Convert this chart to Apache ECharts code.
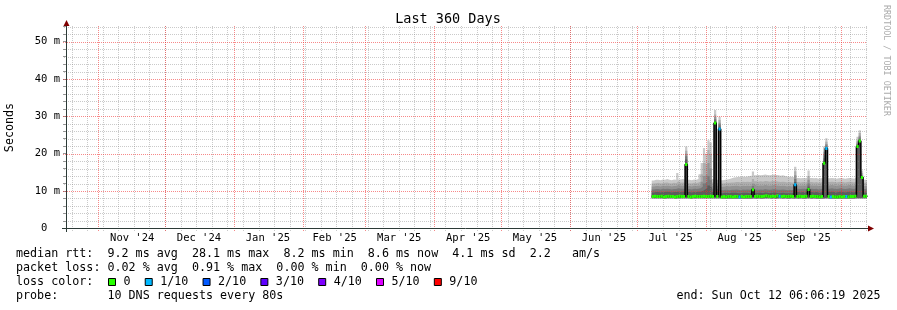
<!DOCTYPE html>
<html><head><meta charset="utf-8">
<script src="https://cdn.jsdelivr.net/npm/echarts@6/dist/echarts.min.js"></script>
<style>html,body{margin:0;padding:0;background:#fff}#c{width:897px;height:310px}</style>
</head><body><div id="c"></div>
<script>
// ---------- data ----------
const rangeStart = '2024-10-17 06:06:19';
const rangeEnd = '2025-10-12 06:06:19';
const firstSample = '2025-07-07 12:00:00'; // one sample per day from here
const monthStarts = ['2024-11-01','2024-12-01','2025-01-01','2025-02-01','2025-03-01','2025-04-01','2025-05-01','2025-06-01','2025-07-01','2025-08-01','2025-09-01','2025-10-01'];
const monthLabelDates = ['2024-11-16','2024-12-16','2025-01-16','2025-02-15','2025-03-16','2025-04-16','2025-05-16','2025-06-16','2025-07-16','2025-08-16','2025-09-16'];
const monthLabels = ["Nov '24","Dec '24","Jan '25","Feb '25","Mar '25","Apr '25","May '25","Jun '25","Jul '25","Aug '25","Sep '25"];
const firstWeekLine = '2024-10-20';
const yTickValues = [0,10,20,30,40,50];
const yTickLabels = ['0  ','10 m','20 m','30 m','40 m','50 m'];

const medianMs = [
 8.5,8.6,8.5,8.5,8.6,8.4,8.5,8.6,8.5,8.5,8.4,8.5,8.6,8.5,8.5,
 17.1,
 8.5,8.4,8.5,8.6,8.5,
 8.5,8.5,8.6,8.5,8.5,8.6,
 8.5,28.2,8.5,26.6,
 8.4,8.5,8.4,8.5,8.5,
 8.4,8.5,8.5,8.4,8.5,8.4,8.5,8.5,8.5,
 10.3,
 8.5,8.6,8.5,8.5,8.6,8.7,8.6,8.5,8.6,8.5,8.7,8.6,8.5,8.6,8.5,8.5,8.6,
 8.5,11.7,
 8.5,8.6,8.5,8.5,8.6,
 10.4,
 8.5,8.6,8.5,8.5,8.4,8.5,
 17.4,21.4,
 8.5,8.4,8.5,8.4,8.4,8.5,8.4,8.5,8.5,8.4,8.5,8.5,8.6,
 21.9,23.4,13.6,
 8.6,8.6];
const lossCount = [
 0,0,0,0,0,0,0,0,0,0,0,0,0,0,0,
 0,
 0,0,0,0,0,
 0,0,0,0,0,0,
 0,0,0,1,
 0,0,0,0,0,
 0,0,0,1,0,0,0,0,0,
 0,
 0,0,0,0,0,0,0,0,0,0,0,1,0,0,0,0,0,
 0,1,
 0,0,0,0,0,
 0,
 0,0,0,0,0,0,
 0,1,
 0,1,0,0,0,0,0,0,1,0,0,0,0,
 0,0,0,
 0,0];
const smokeTop1 = [
 12.8,13.0,13.0,12.9,13.1,13.0,13.2,13.0,12.9,13.1,13.0,14.8,13.1,13.2,13.1,
 21.9,
 13.0,12.9,13.1,13.0,13.2,
 14.5,17.5,21.5,20.0,23.6,23.0,
 13.2,31.7,13.0,29.9,
 12.9,13.0,13.1,13.2,13.4,
 13.6,13.7,13.8,13.8,13.9,13.8,13.9,14.0,14.1,
 15.2,
 14.2,14.3,14.2,14.3,14.4,14.3,14.2,14.3,14.4,14.3,14.2,14.1,14.2,14.0,13.9,13.8,13.8,
 13.7,16.5,
 13.5,13.4,13.5,13.4,13.6,
 15.5,
 13.5,13.4,13.5,13.3,13.4,13.5,
 21.9,24.1,
 13.4,13.5,13.4,13.3,13.4,13.5,13.4,13.3,13.4,13.5,13.4,13.3,13.6,
 24.5,26.3,15.5,
 13.0,12.9];
const smokeTop2 = [
 12.0,12.1,12.2,12.0,12.1,12.2,12.3,12.1,12.0,12.2,12.1,12.6,12.2,12.3,12.2,
 20.8,
 12.1,12.0,12.2,12.1,12.3,
 12.5,14.5,17.5,17.0,21.0,20.0,
 12.3,30.5,12.1,29.0,
 12.0,12.1,12.2,12.2,12.3,
 12.3,12.4,12.4,12.3,12.5,12.4,12.5,12.4,12.5,
 13.2,
 12.6,12.5,12.6,12.5,12.7,12.6,12.5,12.6,12.7,12.6,12.5,12.4,12.5,12.4,12.3,12.4,12.3,
 12.3,15.3,
 12.4,12.3,12.4,12.3,12.5,
 14.0,
 12.4,12.3,12.4,12.2,12.3,12.4,
 20.5,23.2,
 12.4,12.5,12.4,12.3,12.4,12.5,12.4,12.3,12.4,12.5,12.4,12.3,12.6,
 23.5,25.5,14.8,
 12.2,12.1];
const smokeTop3 = [
 11.2,11.3,11.3,11.2,11.4,11.3,11.4,11.3,11.2,11.3,11.3,11.6,11.4,11.4,11.3,
 20.0,
 11.3,11.2,11.4,11.3,11.4,
 11.5,12.5,14.0,14.5,17.5,16.0,
 11.4,29.8,11.3,28.3,
 11.1,11.2,11.3,11.2,11.3,
 11.3,11.4,11.3,11.2,11.4,11.3,11.4,11.3,11.4,
 12.0,
 11.5,11.4,11.5,11.4,11.6,11.5,11.4,11.5,11.6,11.5,11.4,11.3,11.4,11.3,11.2,11.3,11.2,
 11.3,14.2,
 11.5,11.4,11.5,11.4,11.6,
 13.0,
 11.5,11.4,11.5,11.3,11.4,11.5,
 19.6,22.6,
 11.5,11.6,11.5,11.4,11.5,11.6,11.5,11.4,11.5,11.6,11.5,11.4,11.7,
 23.0,24.8,14.3,
 11.3,11.2];
const smokeTop4 = [
 10.4,10.5,10.5,10.4,10.6,10.5,10.6,10.5,10.4,10.5,10.5,10.7,10.6,10.6,10.5,
 19.3,
 10.5,10.4,10.6,10.5,10.6,
 10.7,11.2,12.0,12.5,14.0,13.0,
 10.6,29.2,10.5,27.8,
 10.2,10.3,10.3,10.2,10.3,
 10.3,10.4,10.3,10.2,10.4,10.3,10.4,10.3,10.4,
 11.3,
 10.4,10.3,10.4,10.3,10.5,10.4,10.3,10.4,10.5,10.4,10.3,10.3,10.4,10.3,10.2,10.3,10.2,
 10.4,13.2,
 10.6,10.5,10.6,10.5,10.7,
 12.0,
 10.6,10.5,10.6,10.4,10.5,10.6,
 18.8,22.2,
 10.6,10.7,10.6,10.5,10.6,10.7,10.6,10.5,10.6,10.7,10.6,10.5,10.8,
 22.6,24.3,14.0,
 10.5,10.4];
const smokeTop5 = [
 9.6,9.7,9.7,9.6,9.7,9.7,9.8,9.7,9.6,9.7,9.7,9.8,9.7,9.8,9.7,
 18.4,
 9.7,9.6,9.7,9.7,9.8,
 9.8,10.0,10.4,10.8,11.5,11.0,
 9.7,28.8,9.7,27.2,
 9.4,9.5,9.5,9.4,9.5,
 9.5,9.5,9.4,9.4,9.5,9.5,9.5,9.4,9.5,
 10.8,
 9.5,9.5,9.5,9.4,9.6,9.5,9.4,9.5,9.6,9.5,9.4,9.4,9.5,9.4,9.4,9.4,9.4,
 9.6,12.4,
 9.7,9.6,9.7,9.6,9.8,
 11.2,
 9.7,9.6,9.7,9.6,9.6,9.7,
 18.0,21.8,
 9.7,9.8,9.7,9.6,9.7,9.8,9.7,9.6,9.7,9.8,9.7,9.6,9.9,
 22.2,23.9,13.8,
 9.6,9.6];
const smokeLow = [
 8.0,8.0,8.0,8.0,8.0,7.9,8.0,8.0,8.0,8.0,7.9,8.0,8.0,8.0,8.0,
 8.0,
 8.0,7.9,8.0,8.0,8.0,
 8.0,8.0,8.0,8.0,8.0,8.0,
 8.0,8.0,8.0,8.0,
 7.9,7.9,7.9,7.9,7.9,
 7.9,7.9,7.9,7.9,7.9,7.9,7.9,7.9,7.9,
 8.0,
 7.9,8.0,7.9,7.9,8.0,8.0,8.0,7.9,8.0,7.9,8.0,8.0,7.9,8.0,7.9,7.9,8.0,
 7.9,8.0,
 7.9,8.0,7.9,7.9,8.0,
 8.0,
 7.9,8.0,7.9,7.9,7.9,7.9,
 8.0,8.0,
 7.9,7.9,7.9,7.9,7.9,7.9,7.9,7.9,7.9,7.9,7.9,7.9,8.0,
 8.0,8.0,8.0,
 8.0,8.0];
const lossColors = ['#26ff00','#00b8ff','#0059ff','#5e00ff','#7e00ff','#dd00ff','#ff0000'];
const lossLabels = ['0','1/10','2/10','3/10','4/10','5/10','9/10'];
const legendLines = [
 'median rtt:  9.2 ms avg  28.1 ms max  8.2 ms min  8.6 ms now  4.1 ms sd  2.2   am/s',
 'packet loss: 0.02 % avg  0.91 % max  0.00 % min  0.00 % now',
 'loss color:',
 'probe:       10 DNS requests every 80s'
];
const endText = 'end: Sun Oct 12 06:06:19 2025';
const titleText = 'Last 360 Days';
const yAxisName = 'Seconds';
const sideText = 'RRDTOOL / TOBI OETIKER';

// ---------- helpers ----------
const MONO = '"DejaVu Sans Mono", monospace';
function parts(s){const m=s.match(/(\d+)-(\d+)-(\d+)(?:[ T](\d+):(\d+)(?::(\d+))?)?/);return [+m[1],+m[2]-1,+m[3],+(m[4]||0),+(m[5]||0),+(m[6]||0)];}
function parseT(s){const p=parts(s);return new Date(p[0],p[1],p[2],p[3],p[4],p[5]).getTime();}
function addDays(s,d){const p=parts(s);return new Date(p[0],p[1],p[2]+d,p[3],p[4],p[5]).getTime();}
function lossColor(n){if(n<=0)return lossColors[0];if(n<=4)return lossColors[n];if(n<=8)return lossColors[5];return lossColors[6];}

const tMin = parseT(rangeStart), tMax = parseT(rangeEnd);
const yMax = 54.2;
const times = medianMs.map((_,i)=>addDays(firstSample,i));
const tAfter = addDays(firstSample, medianMs.length);
const tBefore = addDays(firstSample, -1);
function stepData(arr, pre){const o=arr.map((v,i)=>[times[i],v]);o.push([tAfter,arr[arr.length-1]]);if(pre)o.unshift([tBefore,arr[0]]);return o;}

const weekLines=[];{const p=parts(firstWeekLine);for(let k=0;;k++){const t=new Date(p[0],p[1],p[2]+7*k).getTime();if(t>tMax)break;weekLines.push(t);}}
const monthLines = monthStarts.map(parseT);

const GRID_MINOR='rgba(128,128,128,0.42)', GRID_MAJOR='rgba(240,40,40,0.55)';

const bands=[[smokeTop1,'#c9c9c9'],[smokeTop2,'#adadad'],[smokeTop3,'#939393'],[smokeTop4,'#787878'],[smokeTop5,'#5c5c5c']];
const series=[];
bands.forEach(([arr,col])=>{
  series.push({type:'line',data:stepData(arr,false),step:'end',symbol:'none',showSymbol:false,silent:true,z:2,
    lineStyle:{width:0},areaStyle:{color:col,opacity:1,origin:'start'}});
});
// white mask below the lowest ping
series.push({type:'line',data:stepData(smokeLow,true),step:'end',symbol:'none',showSymbol:false,silent:true,z:2,
    lineStyle:{width:0},areaStyle:{color:'#ffffff',opacity:1,origin:'start'}});

function vLineItem(api,col){const t=api.value(0);const a=api.coord([t,0]),b=api.coord([t,yMax]);const x=Math.floor(a[0])+0.5;
  return {type:'line',shape:{x1:x,y1:b[1],x2:x,y2:a[1]+3},style:{stroke:col,lineWidth:1,lineDash:[1,1]}};}
function hLineItem(api,col,ext){const v=api.value(1);const a=api.coord([tMin,v]),b=api.coord([tMax,v]);const y=Math.round(a[1])+0.5;
  return {type:'line',shape:{x1:a[0]-ext,y1:y,x2:b[0],y2:y},style:{stroke:col,lineWidth:1,lineDash:[1,1]}};}
const hMinor=[],hMajor=[];
for(let v=2;v<yMax;v+=2){(v%10===0?hMajor:hMinor).push([tMin,v]);}
series.push({type:'custom',z:3,silent:true,clip:false,encode:{x:0,y:1},data:hMinor,renderItem:(p,api)=>hLineItem(api,GRID_MINOR,2)});
series.push({type:'custom',z:3,silent:true,clip:false,encode:{x:0,y:1},data:weekLines.map(t=>[t,0]),renderItem:(p,api)=>vLineItem(api,GRID_MINOR)});
series.push({type:'custom',z:4,silent:true,clip:false,encode:{x:0,y:1},data:hMajor,renderItem:(p,api)=>hLineItem(api,GRID_MAJOR,3)});
series.push({type:'custom',z:4,silent:true,clip:false,encode:{x:0,y:1},data:monthLines.map(t=>[t,0]),renderItem:(p,api)=>vLineItem(api,GRID_MAJOR)});

// median: black step line + loss coloured segments
series.push({type:'line',data:stepData(medianMs,false),step:'end',symbol:'none',showSymbol:false,silent:true,z:6,
  lineStyle:{color:'#000',width:1.5}});
series.push({type:'custom',z:7,silent:true,clip:true,data:medianMs.map((v,i)=>[times[i],v,lossCount[i]]),encode:{x:0,y:1},
  renderItem:(params,api)=>{const t=api.value(0),v=api.value(1),l=api.value(2);const a=api.coord([t,v]),b=api.coord([t+86400000,v]);
    return {type:'line',shape:{x1:a[0],y1:a[1],x2:b[0],y2:b[1]},style:{stroke:lossColor(l),lineWidth:3}};}});
// month labels
series.push({type:'custom',z:7,silent:true,clip:false,data:monthLabelDates.map((s,i)=>[parseT(s),0,i]),encode:{x:0,y:1},
  renderItem:(params,api)=>{const p=api.coord([api.value(0),0]);
    return {type:'text',x:p[0],y:p[1]+9.5,style:{text:monthLabels[api.value(2)],font:'10.5px '+MONO,fill:'#000',align:'center',verticalAlign:'middle'}};}});

// graphics: axes, title, legend
const AX='#2c3a36', ARROW='#7f0000';
const g=[];
g.push({type:'text',z:100,x:448,y:19,style:{text:titleText,font:'13.5px '+MONO,fill:'#000',align:'center',verticalAlign:'middle'}});
g.push({type:'text',z:100,x:10,y:127.5,rotation:Math.PI/2,style:{text:yAxisName,font:'11.7px '+MONO,fill:'#000',align:'center',verticalAlign:'middle'}});
g.push({type:'text',z:100,x:886,y:5,rotation:-Math.PI/2,style:{text:sideText,font:'8.4px '+MONO,fill:'#ababab',align:'left',verticalAlign:'middle'}});
g.push({type:'line',z:100,shape:{x1:62,y1:228.5,x2:869,y2:228.5},style:{stroke:AX,lineWidth:1}});
g.push({type:'polygon',z:100,shape:{points:[[868,225.5],[874,228.5],[868,231.5]]},style:{fill:ARROW}});
g.push({type:'line',z:100,shape:{x1:66.5,y1:232,x2:66.5,y2:25},style:{stroke:AX,lineWidth:1}});
g.push({type:'polygon',z:100,shape:{points:[[63.5,26],[66.5,20],[69.5,26]]},style:{fill:ARROW}});
const lineY=[254.3,268.3,282.3,296.2];
legendLines.forEach((s,i)=>g.push({type:'text',z:100,x:16,y:lineY[i],style:{text:s,font:'11.7px '+MONO,fill:'#000',align:'left',verticalAlign:'middle'}}));
g.push({type:'text',z:100,x:880.5,y:lineY[3],style:{text:endText,font:'11.7px '+MONO,fill:'#000',align:'right',verticalAlign:'middle'}});
{let x=108.5;const cw=7.03;
 lossLabels.forEach((lab,i)=>{
  g.push({type:'rect',z:100,shape:{x:x,y:278.5,width:7,height:7},style:{fill:lossColors[i],stroke:'#000',lineWidth:1}});
  g.push({type:'text',z:100,x:x+15,y:lineY[2],style:{text:lab,font:'11.7px '+MONO,fill:'#000',align:'left',verticalAlign:'middle'}});
  x=x+15+lab.length*cw+14.7;
 });}

const chart=echarts.init(document.getElementById('c'),null,{renderer:'canvas'});
chart.setOption({
  animation:false,backgroundColor:'#ffffff',
  grid:{left:66,top:26,width:801,height:202.3,outerBoundsMode:'none',containLabel:false},
  xAxis:{type:'time',min:tMin,max:tMax,axisLine:{show:false},axisTick:{show:false},axisLabel:{show:false},splitLine:{show:false}},
  yAxis:{type:'value',min:0,max:yMax,interval:2,axisLine:{show:false},splitLine:{show:false},
    axisTick:{show:true,length:3,lineStyle:{color:'#999'}},
    axisLabel:{margin:6,fontFamily:'DejaVu Sans Mono',fontSize:10.5,color:'#000',showMaxLabel:false,
      formatter:(v)=>{const i=yTickValues.findIndex(t=>Math.abs(t-v)<1e-6);return i>=0?yTickLabels[i]:'';}}},
  graphic:g,
  series:series
});
</script></body></html>
